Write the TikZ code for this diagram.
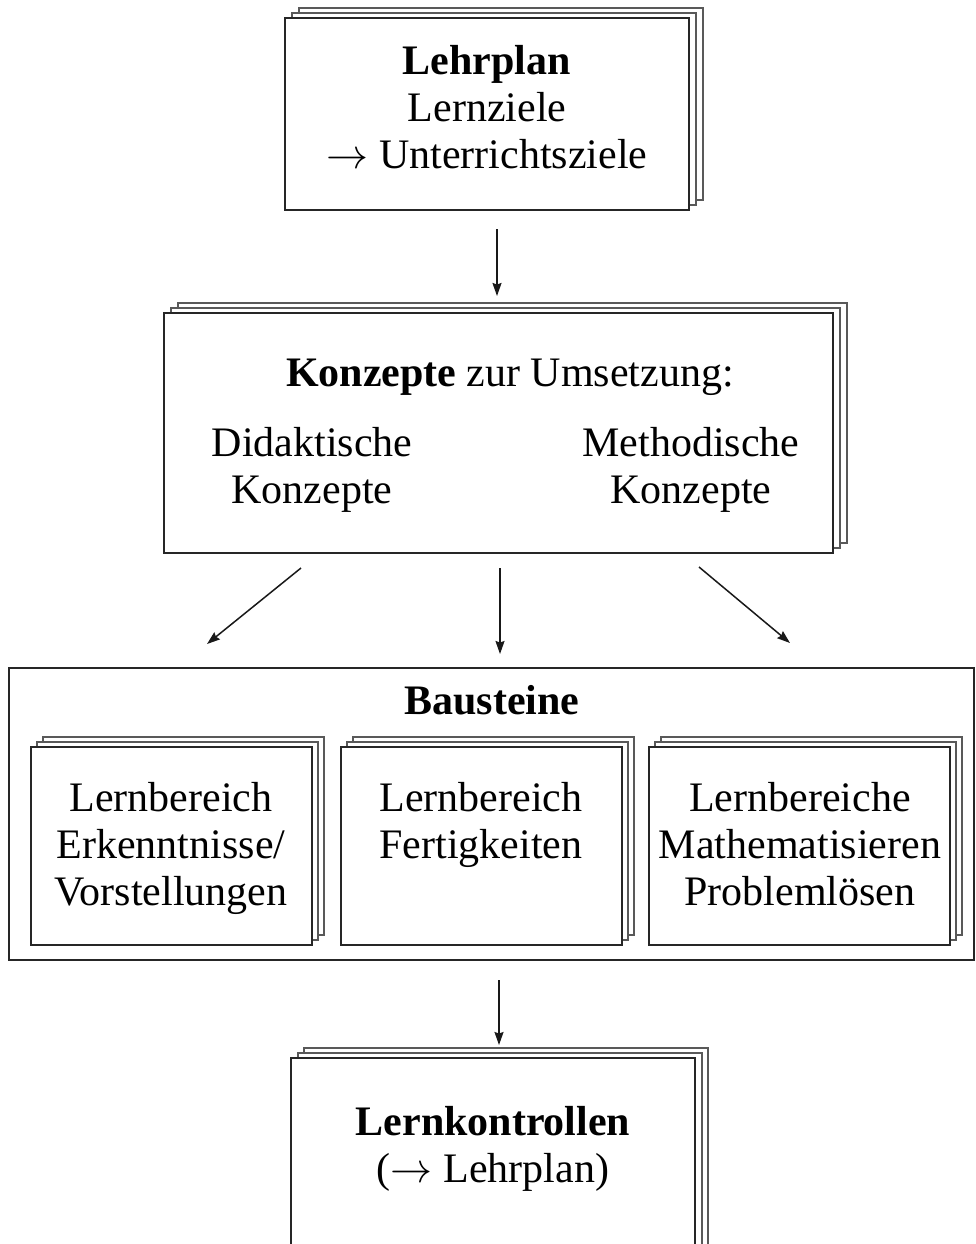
\RequirePackage{fix-cm}
\documentclass[tikz,border=0pt]{standalone}
\usepackage{fontspec}
\setmainfont{Liberation Serif}
\usetikzlibrary{arrows.meta,fit}
\newcommand\mkstack[7]{%
  \draw[backline,shift={(#7)}] (#2,#3) rectangle (#4,#5);
  \draw[backline,shift={(#6)}] (#2,#3) rectangle (#4,#5);
  \node[frontline,fill=white,fit={(#2,#3) (#4,#5)},inner sep=0pt] (#1) {};
}
\begin{document}
\begin{tikzpicture}[x=1pt,y=-1pt,
  frontline/.style={draw=black!85, line width=1.8pt},
  backline/.style={draw=black!65, line width=1.3pt, fill=white},
  txt/.style={font=\fontsize{42}{47}\selectfont, align=center, inner sep=0pt, anchor=base},
  arr/.style={-{Stealth[length=13pt,width=9pt,inset=1.5pt]}, line width=1.5pt, draw=black!90},
]
\useasboundingbox (0,0) rectangle (976,1244);
\fill[white] (0,0) rectangle (976,1244);
\clip (0,0) rectangle (976,1244);

% boxes
\mkstack{lehrplan}{285}{18}{689}{210}{7,-5}{14,-10}
\mkstack{konzepte}{164}{313}{833}{553}{7,-5}{14,-10}
\node[frontline,fit={(9,668) (974,960)},inner sep=0pt] (bausteine) {};
\mkstack{lbA}{31}{747}{312}{945}{6,-5}{12,-10}
\mkstack{lbB}{341}{747}{622}{945}{6,-5}{12,-10}
\mkstack{lbC}{649}{747}{950}{945}{6,-5}{12,-10}
\mkstack{kontrolle}{291}{1058}{695}{1300}{7,-5}{13,-10}

% texts (anchor = baseline of the last line)
\node[txt] (tLehrplan) at (487,168) {\textbf{Lehrplan}\\Lernziele\\$\rightarrow$ Unterrichtsziele};
\node[txt] (tKonz) at (510,386) {\textbf{Konzepte} zur Umsetzung:};
\node[txt] (tDid) at (312,503) {Didaktische\\Konzepte};
\node[txt] (tMeth) at (691,503) {Methodische\\Konzepte};
\node[txt] (tBaus) at (492,714) {\textbf{Bausteine}};
\node[txt] (tLbA) at (171,905) {Lernbereich\\Erkenntnisse/\\Vorstellungen};
\node[txt] (tLbB) at (481,858) {Lernbereich\\Fertigkeiten};
\node[txt] (tLbC) at (800,905) {Lernbereiche\\Mathematisieren\\Problemlösen};
\node[txt] (tKontr) at (493,1182) {\textbf{Lernkontrollen}\\($\rightarrow$ Lehrplan)};

% connector ends
\coordinate (a1s) at (497,229); \coordinate (a1e) at (497,296);
\coordinate (a2s) at (301,568); \coordinate (a2e) at (207,644);
\coordinate (a3s) at (500,568); \coordinate (a3e) at (500,654);
\coordinate (a4s) at (699,567); \coordinate (a4e) at (790,643);
\coordinate (a5s) at (499,980); \coordinate (a5e) at (499,1045);

\draw[arr] (a1s) -- (a1e);
\draw[arr] (a2s) -- (a2e);
\draw[arr] (a3s) -- (a3e);
\draw[arr] (a4s) -- (a4e);
\draw[arr] (a5s) -- (a5e);
\end{tikzpicture}
\end{document}
